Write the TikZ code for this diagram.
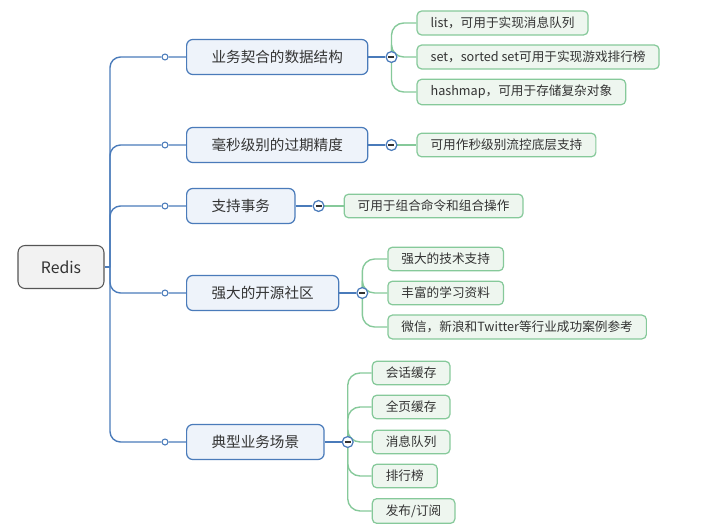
\documentclass[tikz,border=0pt]{standalone}
\usepackage{fontspec}
\setmainfont{Noto Sans CJK SC}
\usetikzlibrary{calc,backgrounds}
\definecolor{rootfill}{HTML}{F2F2F2}
\definecolor{rootline}{HTML}{555555}
\definecolor{topicfill}{HTML}{EEF3FA}
\definecolor{topicline}{HTML}{4A7BBA}
\definecolor{leaffill}{HTML}{EEF6EF}
\definecolor{leafline}{HTML}{86C99A}
\definecolor{inktext}{HTML}{333333}

\begin{document}
\begin{tikzpicture}[
    x=0.02cm, y=-0.02cm,
    rootbox/.style={rectangle, draw=rootline, fill=rootfill, rounded corners=4pt, line width=0.6pt,
      minimum width=1.72cm, minimum height=0.86cm, text=inktext, font=\fontsize{9}{9}\selectfont},
    topic/.style={rectangle, draw=topicline, fill=topicfill, rounded corners=3.5pt, line width=0.7pt,
      minimum height=0.7cm, inner xsep=0.5cm, anchor=west, text=inktext, font=\fontsize{8.3}{8.3}\selectfont},
    leaf/.style={rectangle, draw=leafline, fill=leaffill, rounded corners=2.5pt, line width=0.7pt,
      minimum height=0.46cm, inner xsep=0.27cm, anchor=west, text=inktext, font=\fontsize{7.2}{7.2}\selectfont},
    knob/.style={circle, draw=topicline, fill=white, line width=0.6pt, inner sep=0pt, minimum size=3.4pt},
    fold/.style={circle, draw=topicline, fill=white, line width=0.7pt, inner sep=0pt, minimum size=6.2pt,
      path picture={\draw[inktext, line width=0.7pt] ([xshift=-1.7pt]path picture bounding box.center)
        -- ([xshift=1.7pt]path picture bounding box.center);}},
    trunk/.style={draw=topicline, line width=0.8pt, rounded corners=6pt},
    twig/.style={draw=leafline, line width=0.8pt, rounded corners=7pt}
  ]
    \useasboundingbox (0,0) rectangle (703,527);

    % Root
    \node[rootbox] (root) at (61,267) {Redis};
    \coordinate (trunk) at (110,267);

    % Main topics
    \node[topic] (t1) at (186,57) {业务契合的数据结构};
    \node[topic] (t2) at (186,145) {毫秒级别的过期精度};
    \node[topic] (t3) at (186,206) {支持事务};
    \node[topic] (t4) at (186,293) {强大的开源社区};
    \node[topic] (t5) at (186,442) {典型业务场景};

    \foreach \i/\y in {1/57,2/145,3/206,4/293,5/442}
      \node[knob] (k\i) at (165,\y) {};

    \foreach \i in {1,...,5}
      \node[fold] (f\i) at ($(t\i.east)+(23,0)$) {};

    % Subtopics
    \node[leaf] (l11) at ($(f1)+(25,-34)$) {list，可用于实现消息队列};
    \node[leaf] (l12) at ($(f1)+(25,0)$) {set，sorted set可用于实现游戏排行榜};
    \node[leaf] (l13) at ($(f1)+(25,35)$) {hashmap，可用于存储复杂对象};

    \node[leaf] (l21) at ($(f2)+(25,0)$) {可用作秒级别流控底层支持};

    \node[leaf] (l31) at ($(f3)+(25,0)$) {可用于组合命令和组合操作};

    \node[leaf] (l41) at ($(f4)+(25,-34)$) {强大的技术支持};
    \node[leaf] (l42) at ($(f4)+(25,0)$) {丰富的学习资料};
    \node[leaf] (l43) at ($(f4)+(25,34)$) {微信，新浪和Twitter等行业成功案例参考};

    \node[leaf] (l51) at ($(f5)+(24,-69)$) {会话缓存};
    \node[leaf] (l52) at ($(f5)+(24,-35)$) {全页缓存};
    \node[leaf] (l53) at ($(f5)+(24,0)$) {消息队列};
    \node[leaf] (l54) at ($(f5)+(24,34)$) {排行榜};
    \node[leaf] (l55) at ($(f5)+(24,69)$) {发布/订阅};

    % Connectors
    \begin{pgfonlayer}{background}
      \draw[trunk] (root.east) -- (trunk);
      \foreach \i in {1,...,5} {
        \draw[trunk] (trunk) |- (k\i) -- (t\i);
        \draw[trunk] (t\i.east) -- (f\i);
      }
      \foreach \c in {l11,l12,l13}
        \draw[twig] (f1.center) |- (\c.west);
      \draw[twig] (f2.center) -- (l21.west);
      \draw[twig] (f3.center) -- (l31.west);
      \foreach \c in {l41,l42,l43}
        \draw[twig] (f4.center) |- (\c.west);
      \foreach \c in {l51,l52,l53,l54,l55}
        \draw[twig] (f5.center) |- (\c.west);
    \end{pgfonlayer}
  \end{tikzpicture}
\end{document}
